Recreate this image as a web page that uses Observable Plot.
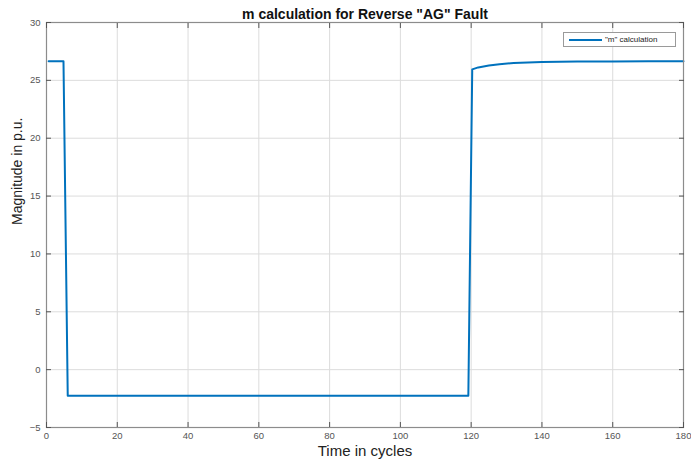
<!DOCTYPE html>
<html>
<head>
<meta charset="utf-8">
<script src="https://cdn.jsdelivr.net/npm/d3@7"></script>
<script src="https://cdn.jsdelivr.net/npm/@observablehq/plot@0.6"></script>
<style>
  body { margin: 0; background: #fff; font-family: "Liberation Sans", Arial, sans-serif; }
  #wrap { position: relative; width: 691px; height: 461px; }
  #legend { position: absolute; left: 563px; top: 32px; width: 111px; height: 13px; border: 1px solid #9a9a9a; background: #fff;
            font: 8px "Liberation Sans", Arial, sans-serif; color: #222; display: flex; align-items: center; }
  #legend .sw { display: inline-block; width: 33px; height: 2px; background: #0072BD; margin: 0 3px 0 5px; }
</style>
</head>
<body>
<div id="wrap"><div id="legend"><span class="sw"></span><span>"m" calculation</span></div></div>
<script>
const title = 'm calculation for Reverse "AG" Fault';
const xLabel = "Time in cycles";
const yLabel = "Magnitude in p.u.";
const seriesName = '"m" calculation';
const xTicks = [0, 20, 40, 60, 80, 100, 120, 140, 160, 180];
const yTicks = [-5, 0, 5, 10, 15, 20, 25, 30];
const time = [0.6, 4.8, 6.0, 119.2, 120.3, 122, 125, 128, 132, 136, 140, 150, 160, 170, 180];
const mValue = [26.65, 26.65, -2.25, -2.25, 25.95, 26.12, 26.28, 26.4, 26.5, 26.55, 26.58, 26.62, 26.64, 26.65, 26.65];

const data = time.map((t, i) => ({t, v: mValue[i]}));

const chart = Plot.plot({
  width: 691,
  height: 461,
  marginTop: 22,
  marginBottom: 34,
  marginLeft: 46,
  marginRight: 8,
  style: {fontFamily: "Liberation Sans, Arial, sans-serif", background: "#fff", overflow: "visible"},
  x: {domain: [0, 180]},
  y: {domain: [-5, 30]},
  marks: [
    Plot.gridX(xTicks, {stroke: "#dcdcdc", strokeOpacity: 1}),
    Plot.gridY(yTicks, {stroke: "#dcdcdc", strokeOpacity: 1}),
    Plot.line(data, {x: "t", y: "v", stroke: "#0072BD", strokeWidth: 2}),
    Plot.frame({stroke: "#8c8c8c", strokeWidth: 1.2}),
    Plot.axisX(xTicks, {anchor: "bottom", tickSize: 0, tickPadding: 5, fontSize: 9.5, color: "#555", label: null}),
    Plot.axisX(xTicks, {anchor: "bottom", tickSize: -5, text: null, stroke: "#555", label: null}),
    Plot.axisX(xTicks, {anchor: "top", tickSize: -5, text: null, stroke: "#555", label: null}),
    Plot.axisY(yTicks, {anchor: "left", tickSize: 0, tickPadding: 6, fontSize: 9.5, color: "#555", label: null}),
    Plot.axisY(yTicks, {anchor: "left", tickSize: -5, text: null, stroke: "#555", label: null}),
    Plot.axisY(yTicks, {anchor: "right", tickSize: -5, text: null, stroke: "#555", label: null}),
    Plot.text([title], {frameAnchor: "top", dy: -13, fontSize: 14, fontWeight: "bold", fill: "#111"}),
    Plot.text([xLabel], {frameAnchor: "bottom", dy: 28, fontSize: 15, fill: "#222"}),
    Plot.text([yLabel], {frameAnchor: "left", dx: -29, rotate: -90, fontSize: 14, fill: "#222"})
  ]
});
document.getElementById("wrap").prepend(chart);
</script>
</body>
</html>
